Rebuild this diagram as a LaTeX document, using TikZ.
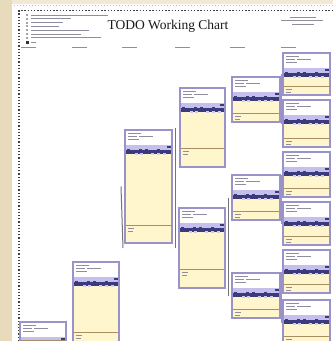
\documentclass[tikz,border=0pt]{standalone}
\usepackage{fontspec}
\setmainfont{Liberation Serif}
\definecolor{beige}{HTML}{E8DBBC}
\definecolor{beigelight}{HTML}{F1E9D6}
\definecolor{cardborder}{HTML}{9A93CA}
\definecolor{cardyellow}{HTML}{FFF6CE}
\definecolor{iconlight}{HTML}{C4BFEC}
\definecolor{iconnavy}{HTML}{3A3A7C}
\definecolor{noteline}{HTML}{A88E62}
\definecolor{txtgray}{HTML}{8E8E9C}
\tikzset{
  cardbox/.style={draw=cardborder, line width=1.6pt, inner sep=0pt, outer sep=0pt, rectangle},
  txt/.style={draw=txtgray, line width=0.7pt},
  conn/.style={draw=black!55, line width=1pt},
  paperdots/.style={draw=black!75, line width=1.3pt, dash pattern=on 1.3pt off 1.9pt},
}
\newcommand\card[6]{%
  \fill[cardyellow] (#2,#3+24) rectangle (#4,#5);
  \fill[white] (#2,#3) rectangle (#4,#3+15);
  \fill[iconlight] (#2,#3+15) rectangle (#4,#3+19.5);
  \fill[iconnavy] (#2,#3+19.5) rectangle (#4,#3+24);
  \foreach \i in {0,2,3,5} {\fill[iconnavy] (#2+2+\i*6,#3+18.5) rectangle ++(2.6,2.4);}
  \foreach \i in {1,2,4,5,6} {\fill[iconlight!80] (#2+4+\i*5.6,#3+23) rectangle ++(3,2.4);}
  \fill[iconnavy] (#4-5,#3+18) rectangle (#4-1,#3+16);
  \draw[noteline, line width=1pt] (#2,#5-#6) -- (#4,#5-#6);
  \draw[txt] (#2+3,#3+3.5) -- ++(13,0);
  \draw[txt] (#2+3,#3+6.5) -- ++(9,0) ++(2,0) -- ++(14,0);
  \draw[txt] (#2+3,#3+9.5) -- ++(11,0);
  \draw[txt] (#2+3,#5-#6+3) -- ++(6,0);
  \draw[txt] (#2+3,#5-#6+6) -- ++(5,0);
  \node[cardbox, minimum width={#4-#2}, minimum height={#5-#3}, anchor=north west] (#1) at (#2,#3) {};
}
\begin{document}
\begin{tikzpicture}[x=1pt,y=-1pt]
\useasboundingbox (0,0) rectangle (333,341);
\fill[beige] (0,0) rectangle (333,341);
\fill[beigelight] (12,0) rectangle (333,4);
\fill[white] (12,4) rectangle (333,341);
\draw[draw=black!25, line width=0.8pt, dash pattern=on 1pt off 2pt] (14,5.5) -- (333,5.5);
\draw[paperdots] (19,341) -- (19,10.5) -- (333,10.5);

% title block
\node[font=\fontsize{13.5}{14}\selectfont, text=black!90, inner sep=0pt] (title) at (168,26) {TODO Working Chart};
\foreach \yy/\ll in {15/77,18.8/40,22.6/32,26.4/28,30.2/58,34/50,37.8/70} {
  \fill[txtgray!80] (26,\yy-1) rectangle ++(2,2);
  \draw[txt] (31,\yy) -- ++(\ll,0);
}
\fill[black!80] (25.5,40.5) rectangle ++(3,3);
\draw[txt] (31,42) -- ++(5,0);
\draw[txt] (290,17) -- ++(26,0);
\draw[txt] (281,20.5) -- ++(42,0);
\draw[txt] (292,24) -- ++(22,0);
% column labels
\foreach \xx in {21,72,122,175,230,281} {\draw[txt] (\xx,47) -- ++(15,0);}

% cards
\card{cA}{20}{322}{66}{348}{8}
\card{cB}{73}{262}{119}{350}{18}
\card{cC}{125}{130}{172}{243}{18}
\card{cDa}{180}{88}{225}{167}{19}
\card{cDb}{179}{208}{225}{288}{19}
\card{cEa}{232}{77}{280}{122}{9}
\card{cEb}{232}{175}{280}{220}{9}
\card{cEc}{232}{273}{280}{318}{9}
\card{cFa}{283}{53}{330}{95}{9}
\card{cFb}{283}{100}{330}{147}{9}
\card{cFc}{283}{152}{330}{197}{9}
\card{cFd}{283}{202}{330}{245}{9}
\card{cFe}{283}{250}{330}{293}{9}
\card{cFf}{283}{300}{330}{345}{9}

% connectors
\coordinate (cCend) at (123,248);
\draw[conn] ([xshift=-2pt]cC.west -| cB.east) ++(4,0) -- (cCend);
\draw[conn] ([xshift=-5pt]cDa.west) -- ([xshift=-5pt]cDa.west |- cDb.west);
\draw[conn] ([xshift=-4pt]cEb.west) -- ([xshift=-4pt]cEb.west |- cEc.west);
\draw[conn, draw=black!40] ([xshift=-2pt]cFa.west) -- ([xshift=-2pt]cFa.west |- cFb.west);
\draw[conn, draw=black!40] ([xshift=-2pt]cFc.west) -- ([xshift=-2pt]cFc.west |- cFd.west);
\draw[conn, draw=black!40] ([xshift=-2pt]cFe.west) -- ([xshift=-2pt]cFe.west |- cFf.west);
\end{tikzpicture}
\end{document}
